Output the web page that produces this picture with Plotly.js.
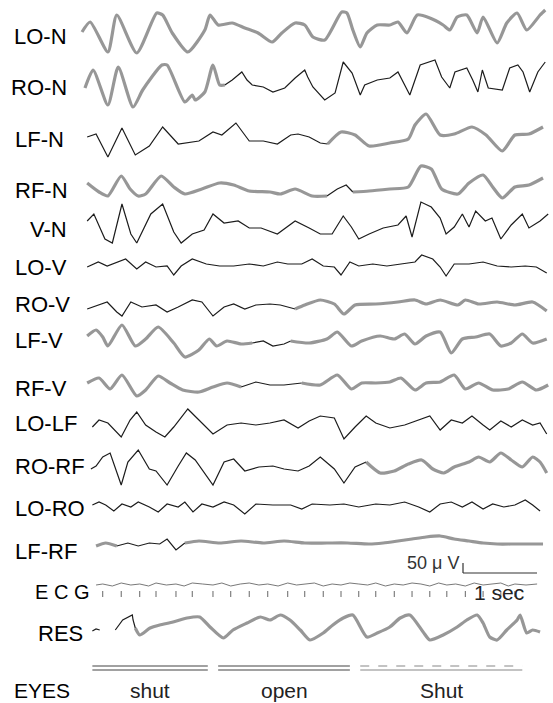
<!DOCTYPE html>
<html><head><meta charset="utf-8">
<script src="https://cdn.plot.ly/plotly-3.0.1.min.js"></script>
<style>html,body{margin:0;padding:0;background:#fff}#chart{width:553px;height:703px}</style>
</head><body><div id="chart"></div>
<script>
// ---------- DATA (time in s, amplitude in µV) ----------
const channelNames = ['LO-N','RO-N','LF-N','RF-N','V-N','LO-V','RO-V','LF-V','RF-V','LO-LF','RO-RF','LO-RO','LF-RF','ECG','RES'];

const loN_t = [0,0.11,0.35,0.47,0.74,1.01,1.09,1.22,1.43,1.66,1.73,1.84,2.03,2.20,2.38,2.57,2.70,2.88,3.01,3.12,3.28,3.51,3.58,3.66,3.76,3.85,3.99,4.16,4.27,4.39,4.53,4.70,4.88,4.97,5.07,5.20,5.34,5.42,5.61,5.74,5.88,6.01,6.19,6.26];
const loN_uV = [0,50,-100,85,-105,95,85,-5,-100,10,85,35,45,20,-5,-50,-5,45,35,-25,-40,100,95,10,-75,-5,35,35,50,-5,85,70,35,10,75,85,-5,75,-55,45,95,10,85,110];

const roN_t = [0.04,0.15,0.35,0.49,0.69,0.82,1.08,1.15,1.39,1.49,1.53,1.66,1.77,1.86,1.93,2.03,2.16,2.23,2.30,2.45,2.58,2.74,2.88,3.01,3.05,3.12,3.28,3.42,3.53,3.65,3.76,3.82,3.99,4.16,4.27,4.34,4.43,4.57,4.77,4.86,4.97,5.04,5.20,5.28,5.35,5.41,5.49,5.68,5.78,5.89,5.96,6.05,6.16,6.26];
const roN_uV = [-30,60,-115,75,-125,-40,85,85,-100,-65,-90,-50,85,-15,-15,10,50,10,-15,-25,-50,-30,20,60,25,-25,-90,-55,100,45,-65,-15,10,20,50,0,-65,85,110,25,-30,50,70,10,-50,60,-30,-40,70,85,50,-50,50,100];

const lfN_t = [0.07,0.19,0.35,0.54,0.72,0.91,1.09,1.30,1.58,1.77,1.89,2.08,2.26,2.45,2.64,2.82,2.92,3.07,3.22,3.32,3.50,3.69,3.88,4.16,4.41,4.50,4.65,4.84,5.03,5.27,5.46,5.68,5.85,6.04,6.23];
const lfN_uV = [5,20,-95,50,-85,-40,55,-30,-15,30,15,75,-15,-15,-30,15,20,5,-25,-30,30,15,-40,-25,-5,65,120,15,20,55,15,-65,15,20,55];

const rfN_t = [0.07,0.23,0.35,0.53,0.65,0.76,0.86,1.07,1.24,1.39,1.62,1.86,2.05,2.26,2.54,2.68,2.88,3.11,3.31,3.45,3.57,3.66,3.88,4.16,4.41,4.58,4.72,4.86,5.08,5.23,5.42,5.55,5.68,5.85,6.04,6.23];
const rfN_uV = [25,-20,-40,60,-5,-40,-30,60,5,-30,-5,25,15,-15,-20,-30,-5,-40,-40,-5,15,-20,-15,-5,5,110,95,-5,-30,25,65,5,-50,5,15,50];

const vN_t = [0.07,0.16,0.31,0.41,0.54,0.66,0.74,0.93,1.09,1.24,1.34,1.49,1.65,1.77,1.92,2.11,2.26,2.42,2.64,2.88,3.07,3.22,3.38,3.53,3.64,3.74,3.88,4.07,4.27,4.38,4.46,4.58,4.72,4.84,4.92,5.03,5.14,5.23,5.32,5.45,5.54,5.66,5.80,5.95,6.04,6.19,6.30];
const vN_uV = [30,65,-60,-80,115,-35,-80,65,115,-25,-80,-35,-15,65,20,30,-5,-5,-35,30,-5,-35,-35,55,0,-60,-35,-5,10,55,-50,125,100,45,-35,0,65,0,80,30,45,-60,10,65,-5,30,65];

const loV_t = [0.07,0.22,0.34,0.47,0.59,0.74,0.86,1.00,1.15,1.24,1.34,1.49,1.68,1.86,2.05,2.26,2.45,2.64,2.78,2.97,3.11,3.26,3.41,3.50,3.62,3.74,3.93,4.12,4.31,4.50,4.59,4.74,4.84,4.92,5.03,5.23,5.42,5.61,5.80,5.99,6.14,6.28];
const loV_uV = [-5,20,0,20,35,-15,20,-5,0,-45,0,35,10,0,0,10,0,20,10,10,35,0,-5,-45,20,0,10,0,10,20,55,35,-5,-50,10,10,20,0,-5,0,-5,-35];

const roV_t = [0.07,0.22,0.34,0.47,0.54,0.66,0.81,1.00,1.15,1.30,1.49,1.62,1.77,1.92,2.05,2.20,2.35,2.54,2.68,2.88,3.01,3.22,3.41,3.54,3.69,3.97,4.27,4.50,4.65,4.84,5.08,5.18,5.36,5.61,5.85,6.09,6.28];
const roV_uV = [-15,5,20,-30,-50,20,-5,5,-30,-5,30,20,-50,-5,10,-15,5,10,5,-15,5,30,10,-40,5,10,20,30,10,30,5,30,10,20,5,20,-25];

const lfV_t = [0.07,0.19,0.28,0.35,0.54,0.72,0.86,1.03,1.24,1.39,1.58,1.72,1.82,1.96,2.15,2.30,2.45,2.58,2.73,2.82,3.07,3.31,3.45,3.64,3.78,4.03,4.22,4.36,4.50,4.65,4.84,4.99,5.14,5.32,5.51,5.66,5.80,5.95,6.09,6.28];
const lfV_uV = [20,50,15,-30,75,-30,5,65,-15,-85,-50,5,-30,-5,-20,-15,-5,-30,-20,-5,-15,5,40,-30,-5,20,5,30,-20,20,40,-65,5,15,30,-30,-15,30,-15,5];

const rfV_t = [0.07,0.23,0.38,0.54,0.74,0.86,1.03,1.19,1.36,1.58,1.77,1.96,2.15,2.35,2.54,2.73,2.97,3.22,3.45,3.64,3.78,3.97,4.16,4.31,4.50,4.65,4.84,5.03,5.18,5.36,5.55,5.76,5.95,6.14,6.30];
const rfV_uV = [10,35,-20,50,-55,-25,45,10,-25,-35,-10,10,-10,15,0,0,10,0,50,-20,10,10,15,35,-25,10,15,50,-20,10,-25,-20,15,-25,0];

const loLF_t = [0.14,0.23,0.35,0.53,0.65,0.74,0.86,1.00,1.12,1.24,1.43,1.58,1.77,1.96,2.15,2.35,2.54,2.73,2.92,3.07,3.22,3.41,3.54,3.69,3.84,3.97,4.16,4.36,4.55,4.70,4.84,4.99,5.14,5.27,5.42,5.51,5.66,5.80,5.95,6.09,6.19,6.28];
const loLF_uV = [-10,25,10,-60,25,65,0,-35,-60,-10,80,25,-45,0,10,0,10,25,-15,20,45,35,-70,-10,45,10,-15,0,25,45,-25,25,10,45,0,-25,20,-10,25,0,10,-45];

const roRF_t = [0.12,0.19,0.28,0.38,0.53,0.62,0.76,0.91,1.00,1.15,1.30,1.41,1.53,1.77,1.92,2.05,2.20,2.39,2.58,2.73,2.92,3.07,3.22,3.41,3.54,3.69,3.84,4.03,4.22,4.41,4.59,4.74,4.89,5.03,5.23,5.36,5.51,5.66,5.80,5.95,6.09,6.19,6.28];
const roRF_uV = [-10,5,50,70,-90,25,85,-10,-20,-90,5,70,35,-90,25,40,-20,0,5,-10,-20,5,50,-10,-80,0,25,-30,-20,15,35,-10,-30,0,25,50,25,70,35,0,50,25,-30];

const loRO_t = [0.14,0.23,0.32,0.43,0.54,0.66,0.76,0.91,1.03,1.15,1.30,1.39,1.50,1.62,1.77,1.92,2.05,2.20,2.35,2.58,2.82,2.97,3.11,3.35,3.54,3.74,3.97,4.16,4.36,4.55,4.70,4.84,4.99,5.14,5.27,5.42,5.55,5.70,5.85,5.99,6.09,6.19];
const loRO_uV = [5,20,5,-25,10,-5,20,-5,-30,10,-5,20,-30,10,-5,20,5,-40,10,5,5,-15,10,5,10,-5,10,5,20,-5,-30,10,20,-5,20,-15,10,-5,5,30,5,-25];

const lfRF_t = [0.19,0.32,0.47,0.62,0.76,0.91,1.05,1.15,1.27,1.39,1.58,1.86,2.15,2.45,2.73,3.01,3.31,3.59,3.88,4.07,4.27,4.46,4.65,4.84,5.03,5.23,5.42,5.61,5.85,6.09,6.23];
const lfRF_uV = [-15,0,-15,0,-15,0,-5,20,-35,0,10,0,10,0,10,0,0,0,-5,0,10,20,30,35,20,10,0,-5,-5,-5,-5];

const ecg_t = [0.19,0.28,0.41,0.53,0.66,0.78,0.90,1.00,1.14,1.27,1.38,1.49,1.63,1.77,1.89,2.01,2.14,2.26,2.39,2.51,2.65,2.78,2.90,3.01,3.14,3.26,3.38,3.50,3.62,3.74,3.86,3.97,4.10,4.22,4.34,4.46,4.58,4.70,4.82,4.93,5.05,5.18,5.30,5.42,5.54,5.66,5.76,5.85,6.00,6.15];
const ecg_uV = [0,5,-5,10,0,5,-5,10,0,5,-5,10,5,0,10,-5,5,10,0,5,-5,10,0,5,10,-5,5,0,10,5,0,10,-5,5,0,10,5,-5,10,0,5,-5,10,0,5,10,-5,5,0,5];
const ecgMarks_t = [0.28,0.53,0.78,1.00,1.27,1.49,1.77,2.01,2.26,2.51,2.78,3.01,3.26,3.50,3.74,3.97,4.22,4.46,4.70,4.93,5.18,5.42,5.66,5.85];

const res_t = [0.14,0.19,0.24,0.45,0.55,0.68,0.69,0.72,0.78,0.92,1.05,1.23,1.42,1.59,1.73,1.91,2.04,2.23,2.41,2.54,2.68,2.81,2.95,3.08,3.26,3.39,3.53,3.66,3.85,3.99,4.16,4.30,4.43,4.61,4.70,4.88,5.07,5.20,5.34,5.42,5.51,5.61,5.74,5.88,5.92,6.01,6.09,6.19];
const res_uV = [-15,-5,-10,-10,40,65,40,0,-35,0,15,30,50,55,5,-50,-10,25,55,40,65,40,-10,-60,-25,15,50,65,-45,-25,5,50,65,-20,-60,-35,5,40,65,25,-45,-60,-10,40,65,-25,-10,-20];

const eyesState = ['shut','open','Shut'];
const eyesStart = [0.14,1.84,3.76];
const eyesEnd = [1.70,3.62,5.95];

const scaleSeconds = 1;
const scaleMicrovolts = 50;

// ---------- LAYOUT / STYLE (pixels of the 553x703 page) ----------
const W = 553, H = 703, X0 = 82, PX_PER_S = 74, UV_PER_PX = 5;
const seriesT = [loN_t,roN_t,lfN_t,rfN_t,vN_t,loV_t,roV_t,lfV_t,rfV_t,loLF_t,roRF_t,loRO_t,lfRF_t,ecg_t,res_t];
const seriesV = [loN_uV,roN_uV,lfN_uV,rfN_uV,vN_uV,loV_uV,roV_uV,lfV_uV,rfV_uV,loLF_uV,roRF_uV,loRO_uV,lfRF_uV,ecg_uV,res_uV];
const basePx = [32,82,138,188,227,266,306,340,385,425,467,506,543,585,628];
const labelPx = [[12,37],[9,88],[13,140],[13,190],[28,230],[13,267],[13,304],[13,340],[13,388],[13,423],[13,466],[13,508],[13,551],[33,592],[36,633]];
// style segments: [from, to, 'g' gray thick | 'k' black thin | 'e' ecg]
const segs = [
  [[0,7,'g']],
  [[0,1.93,'g'],[1.93,7,'k']],
  [[0,3.32,'k'],[3.32,7,'g']],
  [[0,3.31,'g'],[3.31,3.66,'k'],[3.66,7,'g']],
  [[0,7,'k']],
  [[0,7,'k']],
  [[0,2.88,'k'],[2.88,7,'g']],
  [[0,2.30,'g'],[2.30,2.82,'k'],[2.82,7,'g']],
  [[0,2.15,'g'],[2.15,2.97,'k'],[2.97,7,'g']],
  [[0,7,'k']],
  [[0,3.84,'k'],[3.84,7,'g']],
  [[0,7,'k']],
  [[0,0.47,'g'],[0.47,1.39,'k'],[1.39,7,'g']],
  [[0,7,'e']],
  [[0,0.24,'k'],[0.45,0.72,'k'],[0.72,7,'g']]
];
const styles = {
  g: {color:'rgba(125,125,125,0.8)', width:3.2, shape:'spline', smoothing:0.6},
  k: {color:'#1c1c1c', width:1.2, shape:'linear'},
  e: {color:'#555', width:0.8, shape:'linear'}
};
const yOf = (px, uV) => -px*UV_PER_PX + uV;

const traces = [];
seriesT.forEach((ts, i) => {
  segs[i].forEach(([a,b,s]) => {
    const xs = [], ys = [];
    ts.forEach((t, j) => { if (t >= a-1e-9 && t <= b+1e-9) { xs.push(t); ys.push(yOf(basePx[i], seriesV[i][j])); } });
    if (xs.length > 1) traces.push({x:xs, y:ys, mode:'lines', line:styles[s], hoverinfo:'skip'});
  });
});

// ECG marks
{
  const xs = [], ys = [];
  ecgMarks_t.forEach(t => { xs.push(t,t,null); ys.push(yOf(591,0), yOf(597,0), null); });
  traces.push({x:xs, y:ys, mode:'lines', line:{color:'#666', width:1}, hoverinfo:'skip'});
}
// Eyes double lines
[666, 670].forEach((py, k) => {
  eyesStart.forEach((s, i) => {
    traces.push({x:[s, eyesEnd[i]], y:[yOf(py,0), yOf(py,0)], mode:'lines',
      line:{color: i===2 ? '#888' : '#444', width: 1.1, dash: (i===2 && k===0) ? 'dash' : 'solid'}, hoverinfo:'skip'});
  });
});
// Scale bars
const sbT = (463 - X0)/PX_PER_S, sbPx = 573;
traces.push({x:[sbT, sbT + scaleSeconds], y:[yOf(sbPx,0), yOf(sbPx,0)], mode:'lines', line:{color:'#333', width:1.2}, hoverinfo:'skip'});
traces.push({x:[sbT, sbT], y:[yOf(sbPx,0), yOf(sbPx,scaleMicrovolts)], mode:'lines', line:{color:'#333', width:1.2}, hoverinfo:'skip'});

const annotations = [];
const font = {family:'Liberation Sans, Arial, sans-serif', size:22, color:'#000'};
channelNames.forEach((n, i) => {
  const txt = n === 'ECG' ? 'E C G' : n;
  annotations.push({text: txt, xref:'paper', yref:'paper', x: labelPx[i][0]/W, y: 1 - labelPx[i][1]/H,
    xanchor:'left', yanchor:'middle', showarrow:false, font: (n === 'ECG' ? {family:font.family, size:20, color:'#000'} : font)});
});
annotations.push({text:'EYES', xref:'paper', yref:'paper', x:12/W, y:1-690/H, xanchor:'left', yanchor:'middle', showarrow:false, font:{family:font.family, size:21, color:'#000'}});
eyesState.forEach((s, i) => {
  annotations.push({text: s, xref:'x', yref:'paper', x:(eyesStart[i]+eyesEnd[i])/2, y:1-690/H, xanchor:'center', yanchor:'middle', showarrow:false,
    font:{family:'Liberation Sans, Arial, sans-serif', size:21, color:'#222'}});
});
annotations.push({text:'50 \u03bc V', xref:'x', yref:'paper', x:sbT - 0.03, y:1-563/H, xanchor:'right', yanchor:'middle', showarrow:false,
  font:{family:'Liberation Sans, Arial, sans-serif', size:18, color:'#333'}});
annotations.push({text:scaleSeconds + ' sec', xref:'x', yref:'paper', x:sbT + 0.12, y:1-592/H, xanchor:'left', yanchor:'middle', showarrow:false,
  font:{family:'Liberation Sans, Arial, sans-serif', size:21, color:'#222'}});

const layout = {
  width: W, height: H, margin:{l:0,r:0,t:0,b:0}, paper_bgcolor:'#fff', plot_bgcolor:'#fff', showlegend:false,
  xaxis:{range:[-X0/PX_PER_S, (W-X0)/PX_PER_S], visible:false, fixedrange:true},
  yaxis:{range:[-H*UV_PER_PX, 0], visible:false, fixedrange:true},
  annotations: annotations
};
Plotly.newPlot('chart', traces, layout, {displayModeBar:false, staticPlot:true});
</script></body></html>
